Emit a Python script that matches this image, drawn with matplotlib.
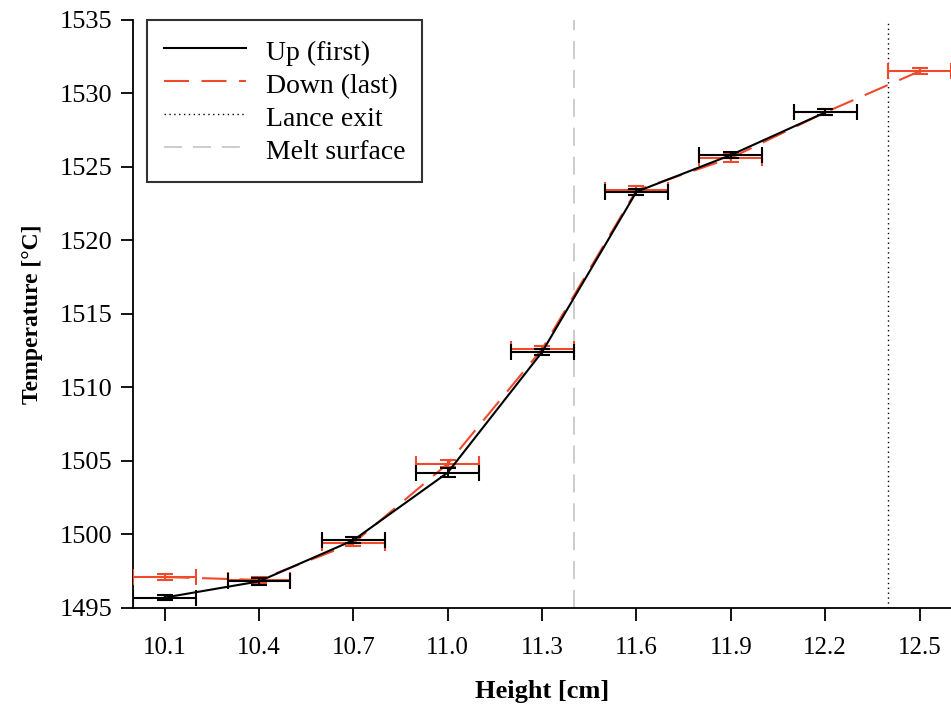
import matplotlib
matplotlib.use("Agg")
import matplotlib.pyplot as plt

plt.rcParams['font.family'] = ['Liberation Serif', 'DejaVu Serif']

# Up (first) series
up_x = [10.1, 10.4, 10.7, 11.0, 11.3, 11.6, 11.9, 12.2]
up_y = [1495.7, 1496.8, 1499.6, 1504.2, 1512.4, 1523.3, 1525.8, 1528.7]
up_yerr = [0.15, 0.25, 0.2, 0.3, 0.2, 0.2, 0.2, 0.2]

# Down (last) series
down_x = [10.1, 10.4, 10.7, 11.0, 11.3, 11.6, 11.9, 12.2, 12.5]
down_y = [1497.1, 1496.9, 1499.4, 1504.8, 1512.6, 1523.4, 1525.6, 1528.7, 1531.5]
down_yerr = [0.2, 0.2, 0.2, 0.25, 0.2, 0.3, 0.25, 0.2, 0.2]

x_err = 0.1
lance_exit = 12.4
melt_surface = 11.4
x_ticks = [10.1, 10.4, 10.7, 11.0, 11.3, 11.6, 11.9, 12.2, 12.5]
y_ticks = [1495, 1500, 1505, 1510, 1515, 1520, 1525, 1530, 1535]

fig = plt.figure(figsize=(9.51, 7.06), dpi=100)
ax = fig.add_axes([0.14, 0.139, 0.86, 0.833])

red = '#f04a2a'
down_ls = (0, (12, 6))
melt_ls = (0, (10, 6))
lance_ls = (0, (1, 2.5))

ax.axvline(melt_surface, color='#c8c8c8', linestyle=melt_ls, linewidth=1.3, zorder=1)
ax.axvline(lance_exit, color='black', linestyle=lance_ls, linewidth=1.0, zorder=1)

ax.errorbar(down_x, down_y, xerr=x_err, yerr=down_yerr, color=red, linewidth=1.5,
            linestyle=down_ls, capsize=6, elinewidth=1.5, capthick=1.5, zorder=3)
ax.errorbar(up_x, up_y, xerr=x_err, yerr=up_yerr, color='black', linewidth=1.5,
            capsize=6, elinewidth=1.5, capthick=1.5, zorder=4)

# legend handles
h_up, = ax.plot([], [], color='black', linewidth=1.5, label='Up (first)')
h_down, = ax.plot([], [], color=red, linewidth=1.5, linestyle=down_ls, label='Down (last)')
h_lance, = ax.plot([], [], color='black', linewidth=1.0, linestyle=lance_ls, label='Lance exit')
h_melt, = ax.plot([], [], color='#c8c8c8', linewidth=1.3, linestyle=melt_ls, label='Melt surface')
leg = ax.legend(handles=[h_up, h_down, h_lance, h_melt], loc='upper left',
                bbox_to_anchor=(0.017, 1.0), fontsize=20, frameon=True, fancybox=False,
                edgecolor='black', handlelength=2.95, handleheight=1.2, borderpad=0.6,
                labelspacing=0.12, handletextpad=0.72, borderaxespad=0)
leg.get_frame().set_linewidth(1.5)

ax.set_xlim(10.0, 12.6)
ax.set_ylim(1495, 1535)
ax.set_xticks(x_ticks)
ax.set_xticklabels([f'{v:.1f}' for v in x_ticks])
ax.set_yticks(y_ticks)
ax.tick_params(direction='out', length=9, width=1.3, pad=8)
ax.tick_params(axis='y', labelsize=19, pad=6)
ax.tick_params(axis='x', labelsize=18, pad=12)

for s in ['top', 'right']:
    ax.spines[s].set_visible(False)
for s in ['left', 'bottom']:
    ax.spines[s].set_linewidth(1.3)

ax.set_xlabel('Height [cm]', fontsize=19, fontweight='bold', labelpad=15)
ax.set_ylabel('Temperature [°C]', fontsize=17, fontweight='bold', labelpad=12)

fig.savefig('out.png', dpi=100, facecolor='white')
